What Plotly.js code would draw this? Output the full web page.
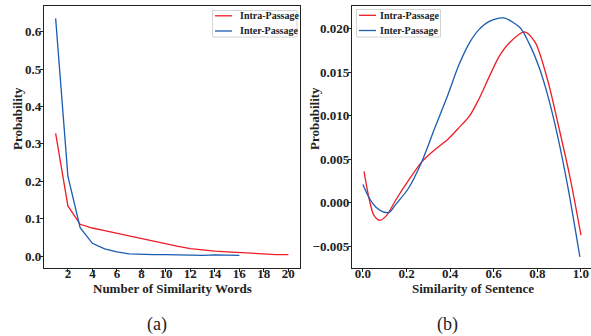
<!DOCTYPE html>
<html>
<head>
<meta charset="utf-8">
<script src="https://cdn.plot.ly/plotly-3.0.1.min.js"></script>
<style>html,body{margin:0;padding:0;background:#fff}#chart{width:591px;height:336px}</style>
</head>
<body>
<div id="chart"></div>
<script>
// (a) Number of similarity words
const wordsIntraX = [1,2,3,4,5,6,7,8,9,10,11,12,13,14,15,16,17,18,19,20];
const wordsIntraY = [0.328,0.134,0.085,0.075,0.068,0.061,0.053,0.045,0.038,0.032,0.026,0.020,0.016,0.013,0.011,0.009,0.007,0.004,0.004,0.004];
const wordsInterX = [1,2,3,4,5,6,7,8,9,10,11,12,13,14,15,16];
const wordsInterY = [0.636,0.214,0.076,0.034,0.019,0.011,0.006,0.004,0.004,0.004,0.003,0.002,0.002,0.003,0.002,0.002];
const wordsTicks = [2,4,6,8,10,12,14,16,18,20];
const wordsYTicks = [0,0.1,0.2,0.3,0.4,0.5,0.6];

// (b) Similarity of sentence
const sentIntraX = [0.005,0.03,0.05,0.078,0.11,0.15,0.21,0.27,0.33,0.39,0.44,0.49,0.53,0.58,0.625,0.67,0.74,0.79,0.85,0.90,0.95,1.0];
const sentIntraY = [0.0036,0.0003,-0.0014,-0.0020,-0.0014,0.0003,0.0026,0.0047,0.0061,0.0073,0.0086,0.0100,0.0118,0.0145,0.0168,0.0183,0.0196,0.0184,0.0138,0.0085,0.0029,-0.0037];
const sentInterX = [0,0.03,0.06,0.09,0.12,0.15,0.21,0.27,0.33,0.39,0.44,0.49,0.53,0.58,0.645,0.72,0.76,0.81,0.85,0.89,0.94,0.995];
const sentInterY = [0.0021,0.0005,-0.0005,-0.0010,-0.0011,-0.0002,0.0017,0.0047,0.0086,0.0124,0.0158,0.0184,0.0198,0.0208,0.0212,0.0201,0.0184,0.0154,0.0121,0.0080,0.0018,-0.0062];
const sentTicks = [0,0.2,0.4,0.6,0.8,1.0];
const sentYTicks = [-0.005,0,0.005,0.01,0.015,0.02];

const seriesNames = ['Intra-Passage','Inter-Passage'];
const xTitles = ['Number of Similarity Words','Similarity of Sentence'];
const yTitle = 'Probability';
const panelLabels = ['(a)','(b)'];

const RED = '#ee1c25', BLUE = '#1a5cb0', INK = '#222';
const FONT = '"Liberation Serif", "Times New Roman", Times, serif';

const traces = [
  {x: wordsIntraX, y: wordsIntraY, name: seriesNames[0], mode:'lines', line:{color:RED,width:1.3}, xaxis:'x', yaxis:'y'},
  {x: wordsInterX, y: wordsInterY, name: seriesNames[1], mode:'lines', line:{color:BLUE,width:1.3}, xaxis:'x', yaxis:'y'},
  {x: sentIntraX, y: sentIntraY, name: seriesNames[0], mode:'lines', line:{color:RED,width:1.3,shape:'spline',smoothing:0.8}, xaxis:'x2', yaxis:'y2'},
  {x: sentInterX, y: sentInterY, name: seriesNames[1], mode:'lines', line:{color:BLUE,width:1.3,shape:'spline',smoothing:0.8}, xaxis:'x2', yaxis:'y2'}
];

const tickFont = {family: FONT, size: 13, color: INK, weight: 'bold'};
const titleFont = {family: FONT, size: 13, color: INK, weight: 'bold'};
const legFont = {family: FONT, size: 10, color: INK, weight: 'bold'};
const axBase = {showline:true, linecolor:INK, linewidth:1.2, mirror:true, ticks:'outside', ticklen:3, tickwidth:1, tickcolor:INK, showgrid:false, zeroline:false, tickfont: tickFont};

// pixel -> paper helpers (plot area spans full width, from y=6 to y=268)
const PX = v => v/591;
const PY = v => (268 - v)/262;

function legendItems(box, lineX0, lineX1, textX, rows) {
  const shapes = [{type:'rect', xref:'paper', yref:'paper', x0:PX(box[0]), x1:PX(box[1]), y0:PY(box[2]), y1:PY(box[3]),
    line:{color:'#d4d4d4', width:1}, fillcolor:'rgba(255,255,255,0.85)', layer:'above'}];
  const ann = [];
  [RED, BLUE].forEach((c, i) => {
    shapes.push({type:'line', xref:'paper', yref:'paper', x0:PX(lineX0), x1:PX(lineX1), y0:PY(rows[i]), y1:PY(rows[i]), line:{color:c, width:1.3}, layer:'above'});
    ann.push({text:seriesNames[i], xref:'paper', yref:'paper', x:PX(textX), y:PY(rows[i]), xanchor:'left', yanchor:'middle', showarrow:false, font:legFont});
  });
  return {shapes, ann};
}
const legA = legendItems([212.5, 297, 10.5, 37], 215, 232, 237.5, [15.8, 31]);
const legB = legendItems([356.5, 440.5, 9.5, 37], 359, 376, 377.5, [15.3, 30.5]);

const layout = {
  width: 591, height: 336,
  margin: {l:0, r:0, t:6, b:68},
  paper_bgcolor:'#fff', plot_bgcolor:'#fff',
  showlegend: false,
  xaxis: Object.assign({}, axBase, {domain:[44/591, 300/591], range:[0.05,20.95], tickvals: wordsTicks, anchor:'y', ticklabelstandoff:-10}),
  yaxis: Object.assign({}, axBase, {domain:[0,1], range:[-0.032,0.669], tickvals: wordsYTicks, tickformat:'.1f', anchor:'x', ticklabelstandoff:-4}),
  xaxis2: Object.assign({}, axBase, {domain:[352/591, 1], range:[-0.05,1.046], tickvals: sentTicks, tickformat:'.1f', anchor:'y2', ticklabelstandoff:-10}),
  yaxis2: Object.assign({}, axBase, {domain:[0,1], range:[-0.00747,0.02257], tickvals: sentYTicks, tickformat:'.3f', anchor:'x2', ticklabelstandoff:-4}),
  shapes: legA.shapes.concat(legB.shapes),
  annotations: legA.ann.concat(legB.ann, [
    {text:xTitles[0], xref:'paper', yref:'paper', x:PX(172), y:PY(288), xanchor:'center', yanchor:'middle', showarrow:false, font:titleFont},
    {text:xTitles[1], xref:'paper', yref:'paper', x:PX(473), y:PY(288), xanchor:'center', yanchor:'middle', showarrow:false, font:titleFont},
    {text:yTitle, xref:'paper', yref:'paper', x:PX(17), y:PY(119), xanchor:'center', yanchor:'middle', textangle:-90, showarrow:false, font:titleFont},
    {text:yTitle, xref:'paper', yref:'paper', x:PX(314), y:PY(119), xanchor:'center', yanchor:'middle', textangle:-90, showarrow:false, font:titleFont},
    {text:panelLabels[0], xref:'paper', yref:'paper', x:PX(157), y:PY(324), xanchor:'center', yanchor:'middle', showarrow:false, font:{family:FONT, size:18, color:INK}},
    {text:panelLabels[1], xref:'paper', yref:'paper', x:PX(447), y:PY(324), xanchor:'center', yanchor:'middle', showarrow:false, font:{family:FONT, size:18, color:INK}}
  ])
};

Plotly.newPlot('chart', traces, layout, {staticPlot:true, displayModeBar:false});
</script>
</body>
</html>
